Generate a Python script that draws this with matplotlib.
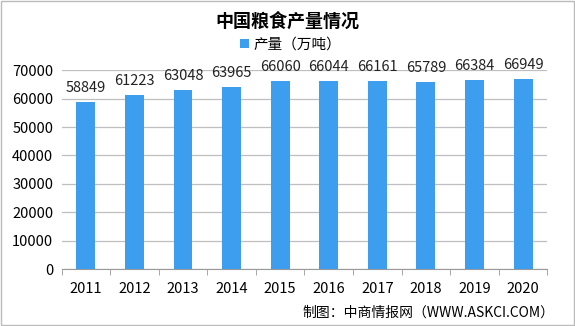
import matplotlib.pyplot as plt
import numpy as np
from matplotlib.patches import Rectangle

plt.rcParams['font.family'] = ['Noto Sans CJK SC', 'DejaVu Sans']

years = ["2011", "2012", "2013", "2014", "2015", "2016", "2017", "2018", "2019", "2020"]
output = [58849, 61223, 63048, 63965, 66060, 66044, 66161, 65789, 66384, 66949]

BLUE = "#3d9ef0"
GRID = "#bfbfbf"

fig = plt.figure(figsize=(5.75, 3.26), dpi=100)
ax = fig.add_axes([0.107, 0.174, 0.845, 0.611])

xs = np.arange(len(years))
ax.bar(xs, output, width=0.39, color=BLUE, zorder=3, label="产量（万吨）")
for x, y in zip(xs, output):
    ax.annotate(f"{y}", xy=(x, y), xytext=(0, 5), textcoords="offset points",
                ha="center", va="bottom", fontsize=10.5, color="#222")

ax.set_xlim(-0.5, len(years) - 0.5)
ax.set_ylim(0, 70000)
ax.set_yticks(np.arange(0, 70001, 10000))
ax.tick_params(axis="y", length=0, labelsize=10.5, pad=6)
ax.set_xticks(xs)
ax.set_xticklabels(years)
ax.set_xticks(np.arange(-0.5, len(years)), minor=True)
ax.tick_params(axis="x", which="major", length=0, labelsize=10.5, pad=9)
ax.tick_params(axis="x", which="minor", length=4, color="#999", direction="out")
ax.grid(axis="y", color=GRID, linewidth=0.9, zorder=0)
for s in ("top", "right", "left"):
    ax.spines[s].set_visible(False)
ax.spines["bottom"].set_color("#999")

fig.text(0.50, 0.935, "中国粮食产量情况", ha="center", va="center",
         fontsize=13, fontweight="bold")
fig.legend(loc="center", bbox_to_anchor=(0.505, 0.862), frameon=False,
           fontsize=10.5, handlelength=0.6, handleheight=0.6, handletextpad=0.3)
fig.text(0.965, 0.04, "制图：中商情报网（WWW.ASKCI.COM）", ha="right", va="center",
         fontsize=10)

fig.patches.append(Rectangle((0.001, 0.002), 0.997, 0.995, transform=fig.transFigure,
                             fill=False, edgecolor="#bbb", linewidth=1))

fig.savefig("out.png", dpi=100, facecolor="white")
